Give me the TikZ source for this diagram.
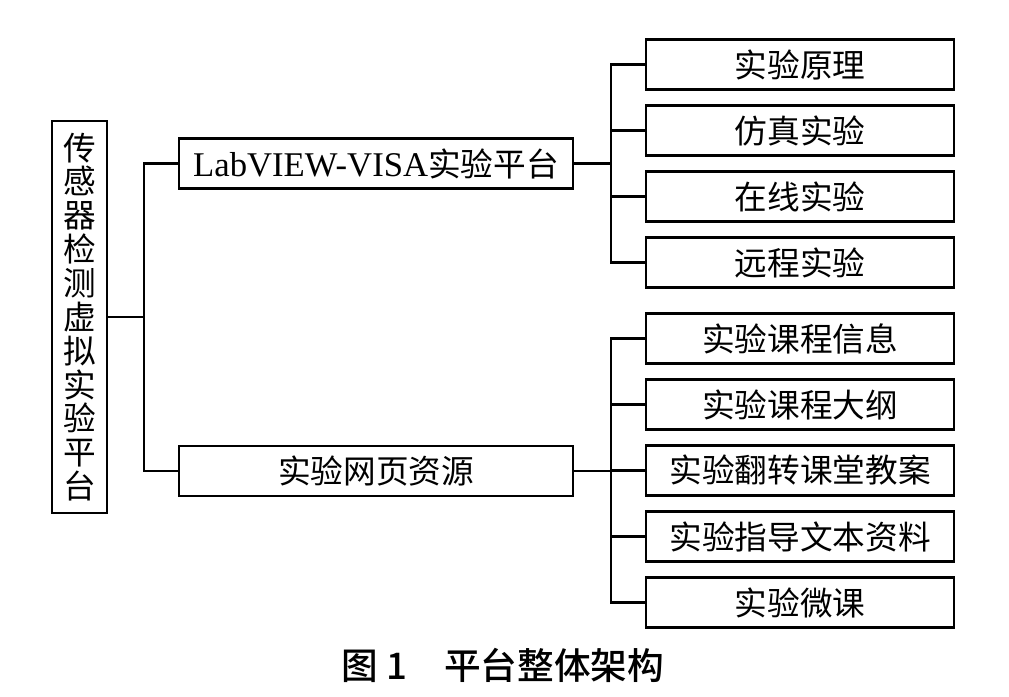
\documentclass[tikz,border=0pt]{standalone}
\usepackage{fontspec}
\setmainfont{Liberation Serif}
\newfontfamily\cjk{Noto Sans CJK SC}
\newfontfamily\capfont{Noto Sans CJK SC Medium}

\begin{document}
\begin{tikzpicture}[x=0.75pt, y=-0.75pt, line width=1.8pt,
  box/.style={draw, inner sep=0pt, font=\cjk\fontsize{24.5}{24.5}\selectfont},
  leaf/.style={box, minimum width=231pt, minimum height=37.5pt},
  mid/.style={box, minimum width=295.5pt, minimum height=37.5pt}]
\useasboundingbox (0,0) rectangle (1009,696);

\node[box, minimum width=41.25pt, minimum height=294pt, align=center, font=\cjk\fontsize{24.5}{25.4}\selectfont] (root) at (79.5,317) {传\\感\\器\\检\\测\\虚\\拟\\实\\验\\平\\台}; %root

\node[mid] (lab) at (376,163.5) {{\rmfamily\fontsize{26}{26}\selectfont LabVIEW-VISA}实验平台}; %lab
\node[mid] (web) at (376,471) {实验网页资源}; %web

\draw (root.east) -- ++(36,0) coordinate (j0);
\draw (lab.west) -| (j0);
\draw (web.west) -| (j0);

\draw (lab.east) -- ++(37,0) coordinate (j1);
\foreach \t [count=\i] in {实验原理, 仿真实验, 在线实验, 远程实验}{
  \node[leaf] (p\i) at (800,{64.5+66*(\i-1)}) {\t};
  \draw (p\i.west) -| (j1);
}

\draw (web.east) -- ++(37,0) coordinate (j2);
\foreach \t [count=\i] in {实验课程信息, 实验课程大纲, 实验翻转课堂教案, 实验指导文本资料, 实验微课}{
  \node[leaf] (w\i) at (800,{338.5+66*(\i-1)}) {\t};
  \draw (w\i.west) -| (j2);
}

\node[font=\capfont\fontsize{27.5}{27.5}\selectfont] (cap) at (503,665) {图 1\hspace{1em}平台整体架构}; %caption

\end{tikzpicture}
\end{document}
